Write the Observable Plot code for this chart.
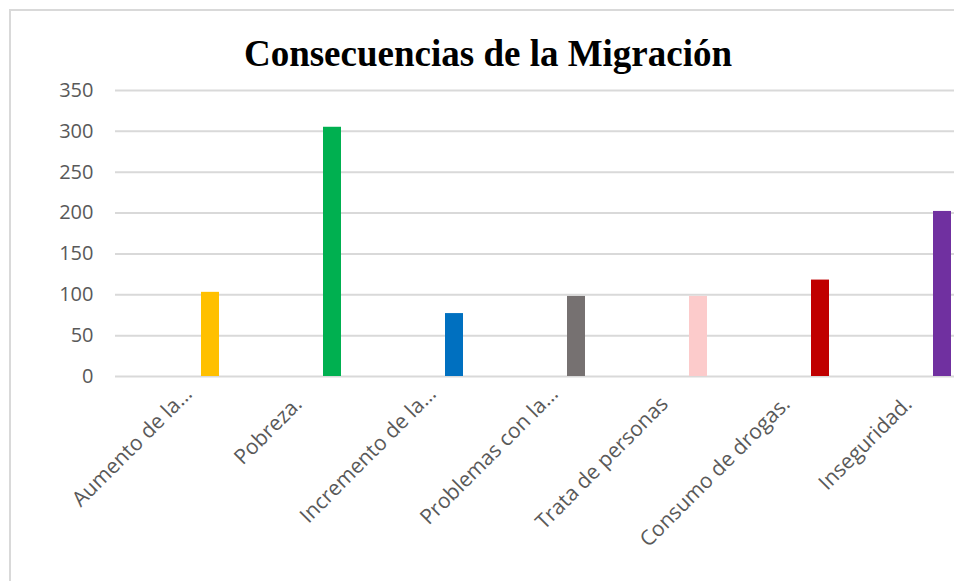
<!DOCTYPE html>
<html>
<head>
<meta charset="utf-8">
<script src="https://cdn.jsdelivr.net/npm/d3@7"></script>
<script src="https://cdn.jsdelivr.net/npm/@observablehq/plot@0.6"></script>
<style>
  html, body { margin: 0; padding: 0; background: #fff; overflow: hidden; }
  body { width: 954px; height: 581px; position: relative; }
  #frame { position: absolute; left: 9px; top: 9px; width: 980px; height: 600px;
           border-left: 2px solid #d9d9d9; border-top: 2px solid #d9d9d9; box-sizing: border-box; }
  #title { position: absolute; left: 0; top: 33px; width: 976px; height: 42px; text-align: center;
           font-family: "Liberation Serif", "Times New Roman", serif; font-weight: bold;
           font-size: 37px; line-height: 42px; color: #000; }
  #chart { position: absolute; left: 0; top: 76px; }
</style>
</head>
<body>
<div id="frame"></div>
<div id="title">Consecuencias de la Migración</div>
<div id="chart"></div>
<script>
const categories = ["Aumento de la…", "Pobreza.", "Incremento de la…", "Problemas con la…", "Trata de personas", "Consumo de drogas.", "Inseguridad."];
const values = [103, 305, 77, 98, 98, 118, 202];
const barColors = ["#FFC000", "#00B050", "#0070C0", "#767171", "#FCCBCB", "#C00000", "#7030A0"];
const yTicks = [0, 50, 100, 150, 200, 250, 300, 350];

const data = categories.map((c, i) => ({cat: c, value: values[i], color: barColors[i]}));
const truncated = categories.filter(c => c.endsWith("…"));
const full = categories.filter(c => !c.endsWith("…"));

const axisStyle = {tickSize: 0, fill: "#595959", label: null};

const chart = Plot.plot({
  width: 954,
  height: 505,
  marginLeft: 115,
  marginRight: 0,
  marginTop: 14,
  marginBottom: 205,
  style: {fontFamily: "Open Sans", background: "transparent"},
  x: {domain: categories, range: [115, 969], padding: 0},
  y: {domain: [0, 350]},
  color: {type: "identity"},
  marks: [
    Plot.gridY(yTicks, {stroke: "#d9d9d9", strokeOpacity: 1, strokeWidth: 2}),
    Plot.barY(data, {x: "cat", y: "value", fill: "color", insetLeft: 86, insetRight: 18}),
    Plot.axisY(yTicks, {...axisStyle, fontSize: 20, tickPadding: 22}),
    Plot.axisX(full, {...axisStyle, fontSize: 21, tickRotate: -45, tickPadding: 24}),
    Plot.axisX(truncated, {...axisStyle, fontSize: 21, tickRotate: -45, tickPadding: 24, dx: 12, dy: -10})
  ]
});
document.getElementById("chart").appendChild(chart);
</script>
</body>
</html>
